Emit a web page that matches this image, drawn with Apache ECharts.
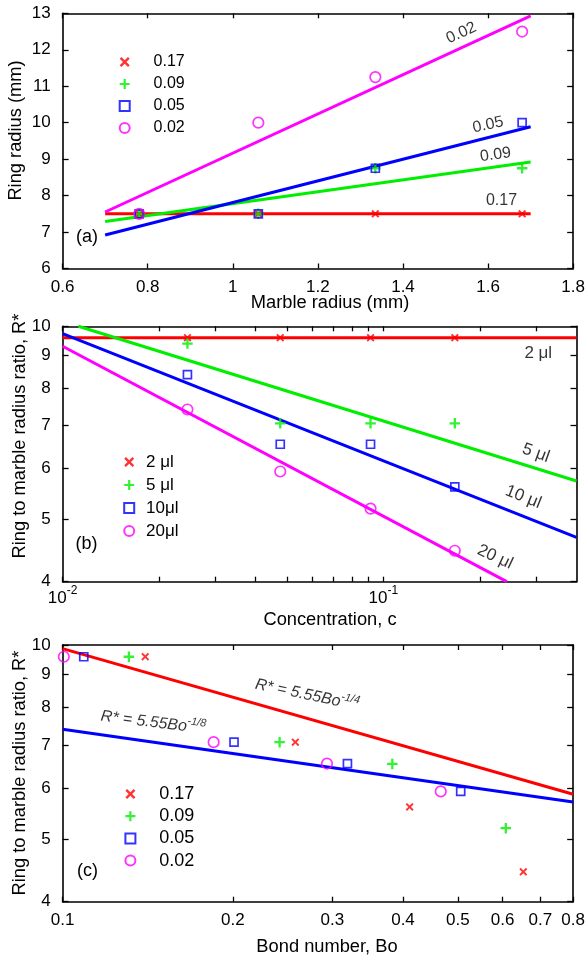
<!DOCTYPE html>
<html>
<head>
<meta charset="utf-8">
<script src="https://cdn.jsdelivr.net/npm/echarts@6/dist/echarts.min.js"></script>
<style>
html,body{margin:0;padding:0;background:#fff;}
#chart{width:588px;height:960px;}
</style>
</head>
<body>
<div id="chart"></div>
<script>
// ---------- Panel (a): ring radius vs marble radius ----------
const aMarble = [0.78, 1.06, 1.335, 1.68];
const aRing017 = [7.5, 7.5, 7.5, 7.5];
const aRing009 = [7.5, 7.5, 8.75, 8.75];
const aRing005 = [7.5, 7.5, 8.75, 10.0];
const aRing002 = [7.5, 10.0, 11.25, 12.5];
const aFitX = [0.7, 1.7];
const aFit017 = [7.5, 7.5];
const aFit009 = [7.29, 8.92];
const aFit005 = [6.92, 9.89];
const aFit002 = [7.55, 12.93];
const aLegend = ['0.17', '0.09', '0.05', '0.02'];
// annotation anchors [x, y, text, rotationDeg]
const aNotes = [[1.537, 12.46, '0.02', 25], [1.600, 9.94, '0.05', 12], [1.6175, 9.12, '0.09', 8], [1.6316, 7.855, '0.17', 0]];

// ---------- Panel (b): R* vs concentration ----------
const bConc = [0.0245, 0.0477, 0.0912, 0.167];
const bR2 = [9.6, 9.6, 9.6, 9.6];
const bR5 = [9.4, 7.06, 7.06, 7.06];
const bR10 = [8.41, 6.55, 6.55, 5.62];
const bR20 = [7.42, 5.94, 5.20, 4.47];
const bFit2 = [[0.01, 9.6], [0.4, 9.6]];
const bFit5 = [[0.0112, 10.0], [0.4, 5.74]];
const bFit10 = [[0.01, 9.74], [0.4, 4.69]];
const bFit20 = [[0.01, 9.31], [0.2426, 4.0]];
const bXTicks = [0.01, 0.02, 0.03, 0.04, 0.05, 0.06, 0.07, 0.08, 0.09, 0.1, 0.2, 0.3];
const bXLabels = [0.01, 0.1];
const logYTicks = [4, 5, 6, 7, 8, 9, 10];
const bLegend = ['2 μl', '5 μl', '10μl', '20μl'];
const bNotes = [[0.304, 9.08, '2 μl', 0], [0.299, 6.345, '5 μl', -20], [0.273, 5.42, '10 μl', -22], [0.223, 4.37, '20 μl', -25]];

// ---------- Panel (c): R* vs Bond number ----------
const cBo017 = [0.140, 0.258, 0.411, 0.653];
const cR017 = [9.59, 7.07, 5.61, 4.45];
const cBo009 = [0.131, 0.242, 0.383, 0.608];
const cR009 = [9.59, 7.07, 6.54, 5.20];
const cBo005 = [0.109, 0.201, 0.319, 0.506];
const cR005 = [9.59, 7.07, 6.55, 5.93];
const cBo002 = [0.1005, 0.185, 0.2935, 0.4665];
const cR002 = [9.59, 7.07, 6.55, 5.93];
const cFitX = [0.1, 0.8];
const cFitQuarter = [9.87, 5.87];
const cFitEighth = [7.40, 5.71];
const cXTicks = [0.1, 0.2, 0.3, 0.4, 0.5, 0.6, 0.7, 0.8];
const cNotes = [[0.2707, 8.365, '{i|R* = 5.55Bo}{s|-1/4}', -12], [0.1446, 7.58, '{i|R* = 5.55Bo}{s|-1/8}', -7]];

// ---------- styles ----------
const RED = '#ff0000', GREEN = '#00ee00', BLUE = '#0000ff', MAG = '#ff00ff';
const FONT = 'Liberation Sans, Arial, Helvetica, sans-serif';
const PLUS = 'path://M3.9,0L6.1,0L6.1,3.9L10,3.9L10,6.1L6.1,6.1L6.1,10L3.9,10L3.9,6.1L0,6.1L0,3.9L3.9,3.9Z';
const CROSS = 'path://M0,1.7L1.7,0L5,3.3L8.3,0L10,1.7L6.7,5L10,8.3L8.3,10L5,6.7L1.7,10L0,8.3L3.3,5Z';
const zip = (xs, ys) => xs.map((x, i) => [x, ys[i]]);

const chart = echarts.init(document.getElementById('chart'), null, {renderer: 'canvas'});

const grids = [
  {left: 62.6, top: 13.3, width: 513.6, height: 255.2},
  {left: 62.6, top: 326.3, width: 513.9, height: 255.4},
  {left: 62.6, top: 645.0, width: 513.9, height: 256.7}
];

const axLine = {show: true, onZero: false, lineStyle: {color: '#000', width: 1.6}};
const tick = (len, extra) => Object.assign({show: true, inside: true, length: len, lineStyle: {color: '#000', width: 1.3}}, extra || {});
const lbl = (extra) => Object.assign({color: '#000', fontSize: 17, fontFamily: FONT}, extra || {});

function xPair(gi, base) {
  const bottom = Object.assign({gridIndex: gi, position: 'bottom', axisLine: axLine, splitLine: {show: false}}, base.bottom);
  const top = Object.assign({gridIndex: gi, position: 'top', axisLine: axLine, splitLine: {show: false}, axisLabel: {show: false}}, base.top);
  return [bottom, top];
}

const xAxes = [
  ...xPair(0, {
    bottom: {type: 'value', min: 0.6, max: 1.8, interval: 0.2, axisTick: tick(5), axisLabel: lbl({margin: 10})},
    top: {type: 'value', min: 0.6, max: 1.8, interval: 0.2, axisTick: tick(5)}
  }),
  ...xPair(1, {
    bottom: {type: 'log', min: 0.01, max: 0.4, logBase: 10,
      axisTick: tick(5, {customValues: bXTicks}),
      axisLabel: lbl({customValues: bXLabels, margin: 3,
        formatter: v => '{b|10}{s|' + Math.round(Math.log10(v)) + '}',
        rich: {b: {fontSize: 17, fontFamily: FONT, color: '#000', lineHeight: 28}, s: {fontSize: 12, fontFamily: FONT, color: '#000', lineHeight: 12, verticalAlign: 'top'}}})},
    top: {type: 'log', min: 0.01, max: 0.4, logBase: 10, axisTick: tick(5, {customValues: bXTicks})}
  }),
  ...xPair(2, {
    bottom: {type: 'log', min: 0.1, max: 0.8, logBase: 10, axisTick: tick(5, {customValues: cXTicks}),
      axisLabel: lbl({customValues: cXTicks, margin: 10, formatter: v => v.toFixed(1)})},
    top: {type: 'log', min: 0.1, max: 0.8, logBase: 10, axisTick: tick(5, {customValues: cXTicks})}
  })
];

function yPair(gi, base) {
  return [
    Object.assign({gridIndex: gi, position: 'left', axisLine: axLine, splitLine: {show: false}}, base.left),
    Object.assign({gridIndex: gi, position: 'right', axisLine: axLine, splitLine: {show: false}, axisLabel: {show: false}}, base.right)
  ];
}
const yAxes = [
  ...yPair(0, {
    left: {type: 'value', min: 6, max: 13, interval: 1, axisTick: tick(6), axisLabel: lbl({margin: 12})},
    right: {type: 'value', min: 6, max: 13, interval: 1, axisTick: tick(6)}
  }),
  ...yPair(1, {
    left: {type: 'log', min: 4, max: 10, logBase: 10, axisTick: tick(6, {customValues: logYTicks}), axisLabel: lbl({customValues: logYTicks, margin: 12})},
    right: {type: 'log', min: 4, max: 10, logBase: 10, axisTick: tick(6, {customValues: logYTicks})}
  }),
  ...yPair(2, {
    left: {type: 'log', min: 4, max: 10, logBase: 10, axisTick: tick(6, {customValues: logYTicks}), axisLabel: lbl({customValues: logYTicks, margin: 12})},
    right: {type: 'log', min: 4, max: 10, logBase: 10, axisTick: tick(6, {customValues: logYTicks})}
  })
];

function fit(ai, data, color) {
  return {type: 'line', xAxisIndex: ai, yAxisIndex: ai, data: data, symbol: 'none', showSymbol: false,
    lineStyle: {color: color, width: 3}, silent: true, z: 2};
}
const mk = {
  x: (color) => ({symbol: CROSS, symbolSize: 8, itemStyle: {color: color}}),
  plus: (color) => ({symbol: PLUS, symbolSize: 10.5, itemStyle: {color: color}}),
  sq: (color) => ({symbol: 'rect', symbolSize: 8, itemStyle: {color: 'rgba(0,0,0,0)', borderColor: color, borderWidth: 1.7}}),
  ci: (color) => ({symbol: 'circle', symbolSize: 10.5, itemStyle: {color: 'rgba(0,0,0,0)', borderColor: color, borderWidth: 1.7}})
};
function pts(ai, name, data, style) {
  return Object.assign({type: 'scatter', name: name, xAxisIndex: ai, yAxisIndex: ai, data: data, z: 4, silent: true}, style);
}
function notes(ai, list, fontSize, extra) {
  return {type: 'scatter', xAxisIndex: ai, yAxisIndex: ai, symbolSize: 1, silent: true, z: 5,
    itemStyle: {color: 'rgba(0,0,0,0)'},
    data: list.map(n => ({value: [n[0], n[1]], label: {formatter: n[2], rotate: n[3]}})),
    label: Object.assign({show: true, position: 'inside', color: '#000', fontSize: fontSize, fontFamily: FONT, textBorderWidth: 0}, extra || {})};
}

const series = [
  // (a)
  fit(0, zip(aFitX, aFit017), RED),
  fit(0, zip(aFitX, aFit009), GREEN),
  fit(0, zip(aFitX, aFit005), BLUE),
  fit(0, zip(aFitX, aFit002), MAG),
  pts(0, '0.17', zip(aMarble, aRing017), mk.x(RED)),
  pts(0, '0.09', zip(aMarble, aRing009), mk.plus(GREEN)),
  pts(0, '0.05', zip(aMarble, aRing005), mk.sq(BLUE)),
  pts(0, '0.02', zip(aMarble, aRing002), mk.ci(MAG)),
  notes(0, aNotes, 16),
  // (b)
  fit(2, bFit2, RED),
  fit(2, bFit5, GREEN),
  fit(2, bFit10, BLUE),
  fit(2, bFit20, MAG),
  pts(2, '2 μl', zip(bConc, bR2), mk.x(RED)),
  pts(2, '5 μl', zip(bConc, bR5), mk.plus(GREEN)),
  pts(2, '10μl', zip(bConc, bR10), mk.sq(BLUE)),
  pts(2, '20μl', zip(bConc, bR20), mk.ci(MAG)),
  notes(2, bNotes, 17),
  // (c)
  fit(4, zip(cFitX, cFitQuarter), RED),
  fit(4, zip(cFitX, cFitEighth), BLUE),
  pts(4, '0.17', zip(cBo017, cR017), mk.x(RED)),
  pts(4, '0.09', zip(cBo009, cR009), mk.plus(GREEN)),
  pts(4, '0.05', zip(cBo005, cR005), mk.sq(BLUE)),
  pts(4, '0.02', zip(cBo002, cR002), mk.ci(MAG)),
  notes(4, cNotes, 16, {rich: {
    i: {fontSize: 16, fontStyle: 'italic', fontFamily: FONT, color: '#000', lineHeight: 22},
    s: {fontSize: 11, fontStyle: 'italic', fontFamily: FONT, color: '#000', lineHeight: 11, verticalAlign: 'top'}
  }})
];

function legend(names, symX, textX, firstY, gap, fontSize) {
  return {
    data: names, orient: 'vertical', left: symX - 5, top: firstY - gap / 2,
    padding: 0, itemGap: 0, itemWidth: 10, itemHeight: 10, selectedMode: false,
    textStyle: {color: '#000', fontSize: fontSize, fontFamily: FONT, lineHeight: gap, padding: [0, 0, 0, textX - symX - 10]}
  };
}

const gtext = (x, y, text, size, rot) => ({type: 'text', x: x, y: y, rotation: rot || 0,
  style: {text: text, fontSize: size, fontFamily: FONT, fill: '#000', align: 'center', verticalAlign: 'middle'}});

chart.setOption({
  animation: false,
  backgroundColor: '#fff',
  grid: grids,
  xAxis: xAxes,
  yAxis: yAxes,
  legend: [
    legend(aLegend, 123.7, 152.6, 62, 22, 16),
    legend(bLegend, 128.2, 145.1, 462, 23, 17),
    legend(aLegend, 129.4, 158.3, 794, 22.2, 18)
  ],
  series: series,
  graphic: [
    gtext(16, 130.5, 'Ring radius (mm)', 18.3, Math.PI / 2),
    gtext(330, 303, 'Marble radius (mm)', 18.3),
    gtext(19.5, 436, 'Ring to marble radius ratio, R*', 18.3, Math.PI / 2),
    gtext(330, 620, 'Concentration, c', 18.3),
    gtext(19.5, 773, 'Ring to marble radius ratio, R*', 18.3, Math.PI / 2),
    gtext(327, 947, 'Bond number, Bo', 18.3),
    gtext(87, 237, '(a)', 18),
    gtext(86.5, 544, '(b)', 18),
    gtext(87.5, 871, '(c)', 18)
  ]
});
</script>
</body>
</html>
